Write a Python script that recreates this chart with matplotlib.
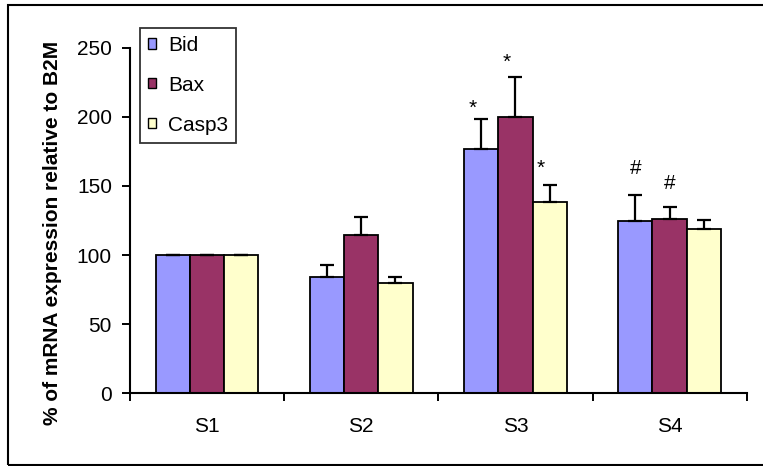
import matplotlib
matplotlib.use("Agg")
import matplotlib.pyplot as plt
import numpy as np
from matplotlib.patches import Patch, Rectangle

plt.rcParams["font.family"] = ["Liberation Sans", "DejaVu Sans"]

categories = ["S1", "S2", "S3", "S4"]
series_names = ["Bid", "Bax", "Casp3"]
bid = [100, 84, 176.5, 124.5]
bid_err = [0.4, 9, 22, 19]
bax = [100, 114.5, 200, 126]
bax_err = [0.4, 13, 29, 9]
casp3 = [100, 79.5, 138.5, 118.5]
casp3_err = [0.4, 4.5, 12, 7]
colors = ["#9999FF", "#993366", "#FFFFCC"]

# significance marks: (category index, series index, symbol, baseline y)
marks = [
    (2, 0, "*", 202.5),
    (2, 1, "*", 235.5),
    (2, 2, "*", 158.5),
    (3, 0, "#", 158.5),
    (3, 1, "#", 147.5),
]

W, H, DPI = 763, 466, 100
fig = plt.figure(figsize=(W / DPI, H / DPI), dpi=DPI)
ax = fig.add_axes([130 / W, 1 - 393.3 / H, (746.7 - 130) / W, (393.3 - 47.7) / H])

x = np.arange(len(categories))
bw = 0.222
values = [bid, bax, casp3]
errors = [bid_err, bax_err, casp3_err]
offsets = [-bw, 0, bw]
for vals, errs, col, off, name in zip(values, errors, colors, offsets, series_names):
    errs = np.asarray(errs)
    ax.bar(x + off, vals, width=bw, color=col, edgecolor="black", linewidth=1.3,
           label=name, zorder=2)
    ax.errorbar(x + off, vals, yerr=[np.zeros_like(errs), errs], fmt="none",
                ecolor="black", elinewidth=1.6, capsize=4.7, capthick=1.6, zorder=3)

for ci, si, sym, yb in marks:
    dx = -0.055 if sym == "*" else 0.0
    ax.text(x[ci] + offsets[si] + dx, yb, sym, ha="center", va="baseline",
            fontsize=15, color="black")

ax.set_xlim(-0.5, len(categories) - 0.5)
ax.set_ylim(0, 250)
ax.set_yticks([0, 50, 100, 150, 200, 250])
ax.set_xticks(np.arange(-0.5, len(categories), 1.0))
ax.set_xticklabels([])
ax.set_xticks(x, minor=True)
ax.set_xticklabels(categories, minor=True)
ax.tick_params(axis="x", which="major", direction="out", length=6, width=1.4)
ax.tick_params(axis="x", which="minor", length=0, pad=17, labelsize=15)
ax.tick_params(axis="y", direction="out", length=6, width=1.4, pad=7, labelsize=15)

for side in ["top", "right"]:
    ax.spines[side].set_visible(False)
for side in ["left", "bottom"]:
    ax.spines[side].set_linewidth(1.5)

ax.set_ylabel("% of mRNA expression relative to B2M", fontsize=15,
              fontweight="bold", va="center", ha="center")
ax.yaxis.set_label_coords(53 / W, 1 - 232.5 / H, transform=fig.transFigure)

handles = [Patch(facecolor=c, edgecolor="black", linewidth=1.0) for c in colors]
leg = fig.legend(handles, series_names, loc="upper left",
                 bbox_to_anchor=(140 / W, 1 - 28 / H), bbox_transform=fig.transFigure,
                 borderaxespad=0, fontsize=15, frameon=True, fancybox=False,
                 edgecolor="black", handlelength=0.38, handleheight=0.38,
                 handletextpad=0.6, labelspacing=1.0, borderpad=0.38)
leg.get_frame().set_linewidth(1.3)

# outer chart border
fig.add_artist(Rectangle((8 / W, 1 - 465 / H), 1.2, (465 - 5) / H,
                         transform=fig.transFigure, fill=False,
                         edgecolor="black", linewidth=1.5, clip_on=False))

fig.savefig("out.png", dpi=DPI)
